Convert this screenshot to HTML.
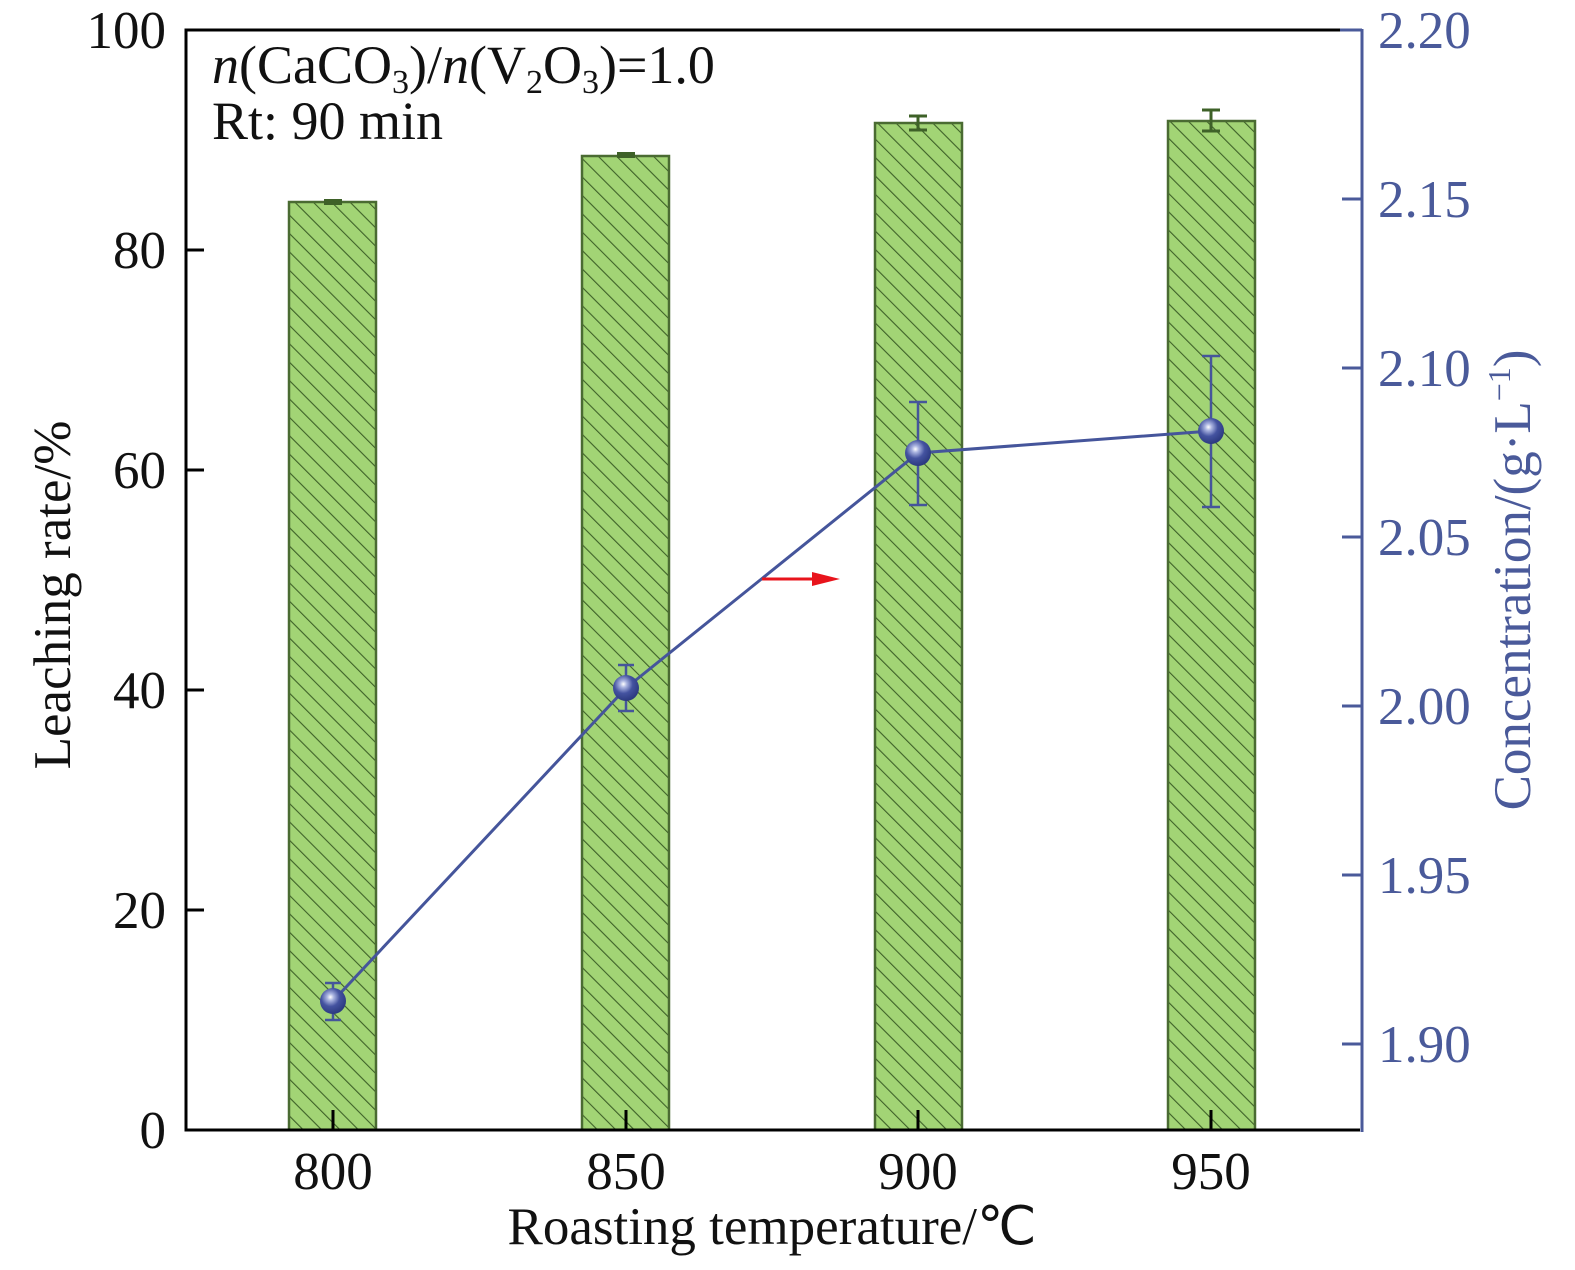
<!DOCTYPE html>
<html><head><meta charset="utf-8"><style>
body{margin:0;background:#fff}
svg text{font-family:"Liberation Serif",serif}
</style></head><body>
<svg width="1575" height="1265" viewBox="0 0 1575 1265" xmlns="http://www.w3.org/2000/svg">
<defs>
<pattern id="h" patternUnits="userSpaceOnUse" width="13" height="13" patternTransform="rotate(-45)">
<rect width="13" height="13" fill="#a2d475"/>
<line x1="0" y1="0" x2="0" y2="13" stroke="#3e6128" stroke-width="2.2"/>
</pattern>
<radialGradient id="m" cx="0.4" cy="0.35" r="0.65">
<stop offset="0" stop-color="#fff"/><stop offset="0.2" stop-color="#aab4e0"/><stop offset="0.55" stop-color="#4453a0"/><stop offset="1" stop-color="#2c3a80"/>
</radialGradient>
</defs>
<g stroke="#4a6b32" stroke-width="2.5">
<rect x="289" y="202" width="87" height="928" fill="url(#h)"/>
<rect x="582" y="156" width="87" height="974" fill="url(#h)"/>
<rect x="875" y="123" width="87" height="1007" fill="url(#h)"/>
<rect x="1168" y="121" width="87" height="1009" fill="url(#h)"/>
</g>
<g stroke="#3e6128" stroke-width="3">
<line x1="324" y1="202" x2="342" y2="202" stroke-width="6"/>
<line x1="617" y1="155" x2="635" y2="155" stroke-width="6"/>
<line x1="918" y1="116" x2="918" y2="130"/><line x1="909" y1="116" x2="927" y2="116"/><line x1="909" y1="130" x2="927" y2="130"/>
<line x1="1211" y1="110" x2="1211" y2="131"/><line x1="1202" y1="110" x2="1220" y2="110"/><line x1="1202" y1="131" x2="1220" y2="131"/>
</g>
<polyline points="333,1001 626,688 918,453 1211,431" fill="none" stroke="#45559b" stroke-width="3"/>
<g stroke="#45559b" stroke-width="2.5">
<line x1="333" y1="983" x2="333" y2="1020"/><line x1="325" y1="983" x2="341" y2="983"/><line x1="325" y1="1020" x2="341" y2="1020"/>
<line x1="626" y1="665" x2="626" y2="711"/><line x1="618" y1="665" x2="634" y2="665"/><line x1="618" y1="711" x2="634" y2="711"/>
<line x1="918" y1="402" x2="918" y2="505"/><line x1="909" y1="402" x2="927" y2="402"/><line x1="909" y1="505" x2="927" y2="505"/>
<line x1="1211" y1="356" x2="1211" y2="507"/><line x1="1202" y1="356" x2="1220" y2="356"/><line x1="1202" y1="507" x2="1220" y2="507"/>
</g>
<g fill="url(#m)">
<circle cx="333" cy="1001" r="13"/><circle cx="626" cy="688" r="13"/><circle cx="918" cy="453" r="13"/><circle cx="1211" cy="431" r="13"/>
</g>
<line x1="762" y1="579" x2="815" y2="579" stroke="#e8141c" stroke-width="3"/>
<polygon points="812,572 840,579 812,586" fill="#e8141c"/>
<g stroke="#000" stroke-width="3" fill="none">
<polyline points="1360,30 186,30 186,1130 1360,1130"/>
<line x1="186" y1="250" x2="204" y2="250"/><line x1="186" y1="470" x2="204" y2="470"/><line x1="186" y1="690" x2="204" y2="690"/><line x1="186" y1="910" x2="204" y2="910"/>
<line x1="333" y1="1130" x2="333" y2="1110"/><line x1="626" y1="1130" x2="626" y2="1110"/><line x1="918" y1="1130" x2="918" y2="1110"/><line x1="1211" y1="1130" x2="1211" y2="1110"/>
</g>
<g stroke="#4a5a9a" stroke-width="3" fill="none">
<line x1="1362" y1="29" x2="1362" y2="1132"/>
<line x1="1340" y1="30" x2="1362" y2="30"/>
<line x1="1342" y1="199" x2="1362" y2="199"/><line x1="1342" y1="368" x2="1362" y2="368"/><line x1="1342" y1="537" x2="1362" y2="537"/><line x1="1342" y1="706" x2="1362" y2="706"/><line x1="1342" y1="875" x2="1362" y2="875"/><line x1="1342" y1="1044" x2="1362" y2="1044"/>
</g>
<g font-size="53" text-anchor="end" fill="#111">
<text x="166" y="48">100</text><text x="166" y="268">80</text><text x="166" y="488">60</text><text x="166" y="708">40</text><text x="166" y="928">20</text><text x="166" y="1148">0</text>
</g>
<g font-size="53" text-anchor="middle" fill="#111">
<text x="333" y="1189">800</text><text x="626" y="1189">850</text><text x="918" y="1189">900</text><text x="1211" y="1189">950</text>
<text x="772" y="1244">Roasting temperature/℃</text>
</g>
<g font-size="53" fill="#4a5a9a">
<text x="1378" y="48">2.20</text><text x="1378" y="217">2.15</text><text x="1378" y="386">2.10</text><text x="1378" y="555">2.05</text><text x="1378" y="724">2.00</text><text x="1378" y="893">1.95</text><text x="1378" y="1062">1.90</text>
</g>
<text transform="translate(70,595) rotate(-90)" font-size="53" text-anchor="middle" fill="#111">Leaching rate/%</text>
<text transform="translate(1530,580) rotate(-90)" font-size="53" text-anchor="middle" fill="#4a5a9a">Concentration/(g·L<tspan font-size="32" dy="-20">−1</tspan><tspan dy="20">)</tspan></text>
<text x="212" y="83" font-size="54" fill="#111"><tspan font-style="italic">n</tspan>(CaCO<tspan font-size="34" dy="10">3</tspan><tspan dy="-10">)/</tspan><tspan font-style="italic">n</tspan>(V<tspan font-size="34" dy="10">2</tspan><tspan dy="-10">O</tspan><tspan font-size="34" dy="10">3</tspan><tspan dy="-10">)=1.0</tspan></text>
<text x="212" y="139" font-size="54" fill="#111">Rt: 90 min</text>
</svg>
</body></html>
